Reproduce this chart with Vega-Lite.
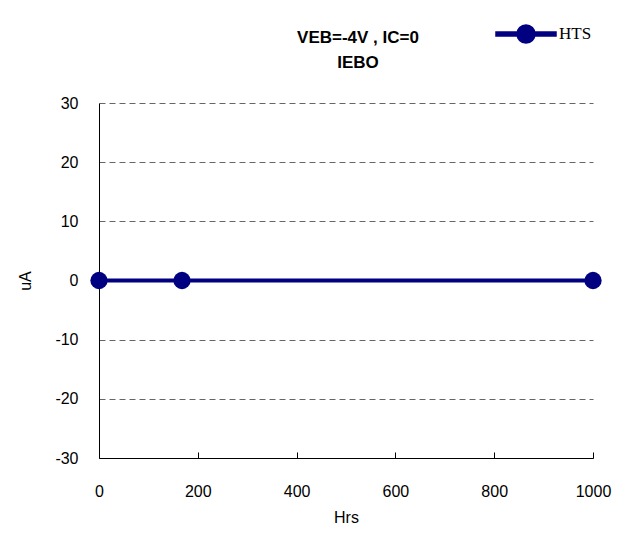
{
  "$schema": "https://vega.github.io/schema/vega-lite/v6.json",
  "width": 494,
  "height": 355,
  "autosize": {"type": "none"},
  "padding": {"left": 99, "top": 103, "right": 29, "bottom": 77},
  "background": "white",
  "config": {"view": {"stroke": null}, "font": "Liberation Sans"},
  "title": {
    "text": ["VEB=-4V , IC=0", "IEBO"],
    "fontSize": 17,
    "fontWeight": "bold",
    "font": "Liberation Sans",
    "anchor": "middle",
    "dx": 12,
    "offset": -69,
    "lineHeight": 25,
    "color": "black"
  },
  "data": {
    "values": [
      {"Hrs": 0, "uA": 0, "series": "HTS"},
      {"Hrs": 168, "uA": 0, "series": "HTS"},
      {"Hrs": 1000, "uA": 0, "series": "HTS"}
    ]
  },
  "encoding": {
    "x": {
      "field": "Hrs",
      "type": "quantitative",
      "scale": {"domain": [0, 1000], "nice": false},
      "axis": {
        "values": [0, 200, 400, 600, 800, 1000],
        "labelExpr": "'' + datum.value",
        "labelFlush": false,
        "title": "Hrs",
        "grid": false,
        "domainColor": "black",
        "domainWidth": 1,
        "tickColor": "black",
        "tickSize": -6,
        "labelPadding": 31,
        "labelFontSize": 16,
        "labelColor": "black",
        "labelFont": "Liberation Sans",
        "titleFontSize": 16,
        "titleFontWeight": "normal",
        "titleColor": "black",
        "titleFont": "Liberation Sans",
        "titlePadding": 10
      }
    },
    "y": {
      "field": "uA",
      "type": "quantitative",
      "scale": {"domain": [-30, 30], "nice": false},
      "axis": {
        "values": [-30, -20, -10, 0, 10, 20, 30],
        "labelExpr": "'' + datum.value",
        "title": "uA",
        "grid": true,
        "gridDash": [6, 4],
        "gridColor": "#666666",
        "gridWidth": 1,
        "ticks": false,
        "domainColor": "black",
        "domainWidth": 1,
        "labelPadding": 21,
        "labelFontSize": 16,
        "labelColor": "black",
        "labelFont": "Liberation Sans",
        "titleFontSize": 16,
        "titleFontWeight": "normal",
        "titleColor": "black",
        "titleFont": "Liberation Sans",
        "titlePadding": 21
      }
    },
    "color": {
      "field": "series",
      "type": "nominal",
      "scale": {"range": ["#000080"]},
      "legend": {
        "title": null,
        "orient": "none",
        "legendX": 396,
        "legendY": -100,
        "symbolType": "M-1,-0.07H1V0.07H-1Z M-0.3,0A0.3,0.3 0 1,1 0.3,0A0.3,0.3 0 1,1 -0.3,0Z",
        "symbolSize": 3600,
        "labelFont": "Liberation Serif",
        "labelFontSize": 17,
        "labelColor": "black",
        "labelOffset": 2,
        "encode": {
          "symbols": {
            "update": {
              "fill": {"value": "#000080"},
              "stroke": {"value": "transparent"},
              "fillOpacity": {"value": 1}
            }
          }
        }
      }
    }
  },
  "layer": [
    {"mark": {"type": "line", "strokeWidth": 4}},
    {"mark": {"type": "point", "filled": true, "size": 300, "opacity": 1}}
  ]
}
